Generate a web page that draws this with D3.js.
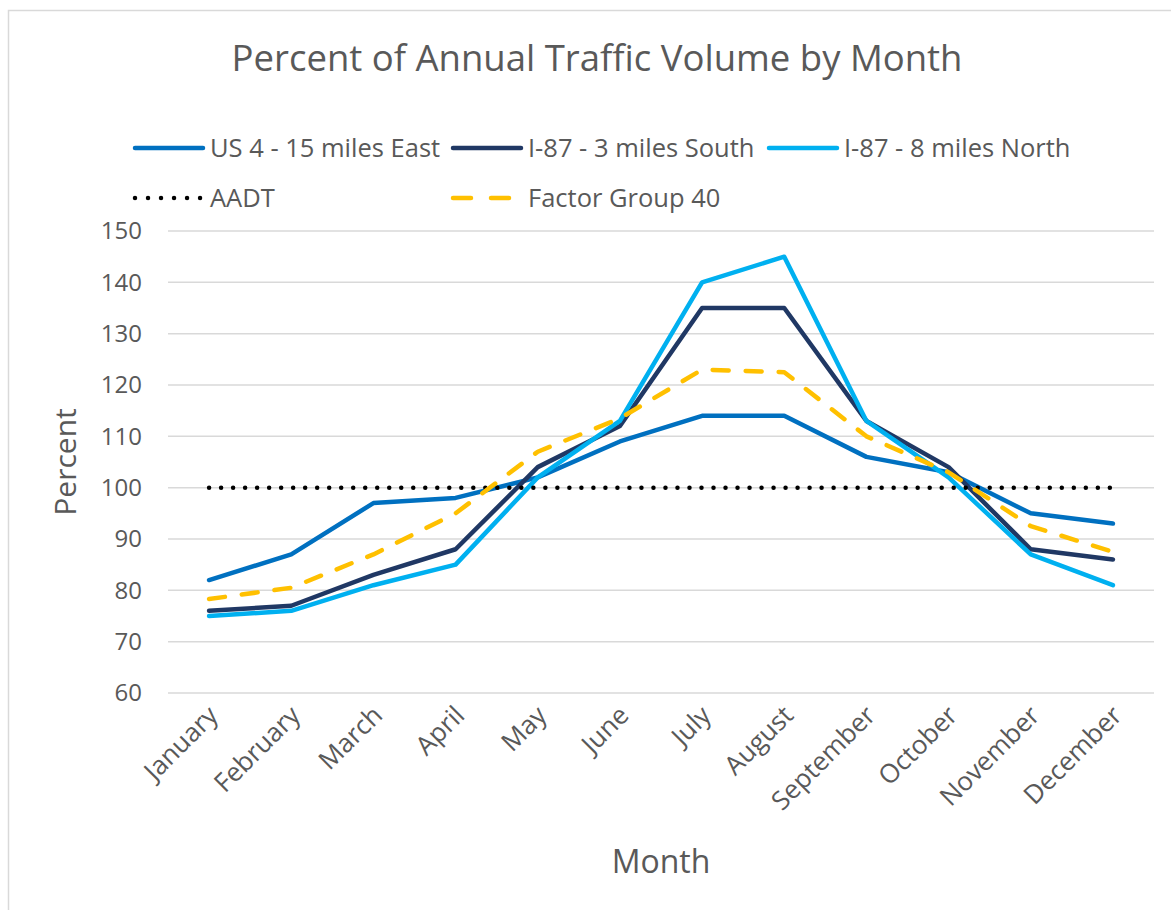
<!DOCTYPE html>
<html lang="en">
<head>
    <meta charset="UTF-8">
    <title>Percent of Annual Traffic Volume by Month</title>
    <script src="https://d3js.org/d3.v7.min.js"></script>
    <style>
        body {
            margin: 0;
            background: #fff;
            font-family: 'Open Sans', sans-serif;
            overflow: hidden;
        }
        svg text {
            fill: #595959;
        }
    </style>
</head>
<body>
    <div id="chart"></div>

    <script>
        // Data
        const months = ["January", "February", "March", "April", "May", "June",
            "July", "August", "September", "October", "November", "December"];
        const us4East = [82, 87, 97, 98, 102, 109, 114, 114, 106, 103, 95, 93];
        const i87South = [76, 77, 83, 88, 104, 112, 135, 135, 113, 104, 88, 86];
        const i87North = [75, 76, 81, 85, 102, 113, 140, 145, 113, 102, 87, 81];
        const aadt = [100, 100, 100, 100, 100, 100, 100, 100, 100, 100, 100, 100];
        const factorGroup40 = [78.3, 80.5, 87, 95, 107, 113.5, 123, 122.5, 110, 103, 92.5, 87.5];
        const yTicks = [60, 70, 80, 90, 100, 110, 120, 130, 140, 150];

        const series = [
            { name: "US 4 - 15 miles East", values: us4East, color: "#0070C0", dash: null },
            { name: "I-87 - 3 miles South", values: i87South, color: "#203864", dash: null },
            { name: "I-87 - 8 miles North", values: i87North, color: "#00B0F0", dash: null },
            { name: "AADT", values: aadt, color: "#000000", dash: "0.01,12" },
            { name: "Factor Group 40", values: factorGroup40, color: "#FFC000", dash: "16,17" }
        ];

        const width = 1171;
        const height = 910;
        const margin = { top: 231, right: 17, bottom: 217, left: 168 };

        const svg = d3.select("#chart").append("svg")
            .attr("width", width)
            .attr("height", height);

        // chart area outline (only left/top visible in the picture)
        svg.append("rect")
            .attr("x", 8.5).attr("y", 10.5)
            .attr("width", 1180).attr("height", 920)
            .attr("fill", "none")
            .attr("stroke", "#d9d9d9")
            .attr("stroke-width", 1.5);

        const x = d3.scalePoint()
            .domain(months)
            .range([margin.left, width - margin.right])
            .padding(0.5);

        const y = d3.scaleLinear()
            .domain([60, 150])
            .range([height - margin.bottom, margin.top]);

        // gridlines
        svg.append("g")
            .selectAll("line")
            .data(yTicks)
            .enter()
            .append("line")
            .attr("x1", margin.left)
            .attr("x2", width - margin.right)
            .attr("y1", d => y(d))
            .attr("y2", d => y(d))
            .attr("stroke", "#d9d9d9")
            .attr("stroke-width", 1.5);

        // y axis labels
        const yAxis = svg.append("g")
            .attr("transform", `translate(${margin.left - 26},0)`)
            .call(d3.axisLeft(y).tickValues(yTicks).tickSize(0).tickPadding(0));
        yAxis.select(".domain").remove();
        yAxis.selectAll("text")
            .attr("font-family", "'Open Sans', sans-serif")
            .attr("font-size", 24)
            .style("fill", "#595959");

        // x axis labels, rotated
        const xAxis = svg.append("g")
            .attr("transform", `translate(0,${height - margin.bottom})`)
            .call(d3.axisBottom(x).tickSize(0).tickPadding(0));
        xAxis.select(".domain").remove();
        xAxis.selectAll("text")
            .attr("font-family", "'Open Sans', sans-serif")
            .attr("font-size", 26)
            .attr("text-anchor", "end")
            .attr("dy", 0)
            .attr("y", 0)
            .attr("transform", "translate(10,24) rotate(-45)")
            .style("fill", "#595959");

        // lines
        const line = d3.line()
            .x((d, i) => x(months[i]))
            .y(d => y(d));

        svg.append("g")
            .selectAll("path")
            .data(series)
            .enter()
            .append("path")
            .attr("d", d => line(d.values))
            .attr("fill", "none")
            .attr("stroke", d => d.color)
            .attr("stroke-width", 4.5)
            .attr("stroke-linejoin", "round")
            .attr("stroke-linecap", "round")
            .attr("stroke-dasharray", d => d.dash);

        // title
        svg.append("text")
            .attr("x", 597)
            .attr("y", 71)
            .attr("text-anchor", "middle")
            .attr("font-size", 36.5)
            .text("Percent of Annual Traffic Volume by Month");

        // axis titles
        svg.append("text")
            .attr("transform", "translate(76,462) rotate(-90)")
            .attr("text-anchor", "middle")
            .attr("font-size", 30)
            .text("Percent");

        svg.append("text")
            .attr("x", 661)
            .attr("y", 873)
            .attr("text-anchor", "middle")
            .attr("font-size", 32)
            .text("Month");

        // legend
        const legendPos = [
            { x: 135, y: 148 },
            { x: 453, y: 148 },
            { x: 769, y: 148 },
            { x: 135, y: 198 },
            { x: 453, y: 198 }
        ];

        const legend = svg.append("g")
            .selectAll("g")
            .data(series)
            .enter()
            .append("g")
            .attr("transform", (d, i) => `translate(${legendPos[i].x},${legendPos[i].y})`);

        legend.append("line")
            .attr("x1", 0)
            .attr("x2", d => d.name === "AADT" ? 66 : 68)
            .attr("y1", 0)
            .attr("y2", 0)
            .attr("stroke", d => d.color)
            .attr("stroke-width", 4.5)
            .attr("stroke-linecap", "round")
            .attr("stroke-dasharray", d => d.name === "AADT" ? "0.01,13" : (d.dash ? "18,20" : null));

        legend.append("text")
            .attr("x", 75)
            .attr("y", 0)
            .attr("dy", "0.35em")
            .attr("font-size", 25.5)
            .text(d => d.name);
    </script>
</body>
</html>
